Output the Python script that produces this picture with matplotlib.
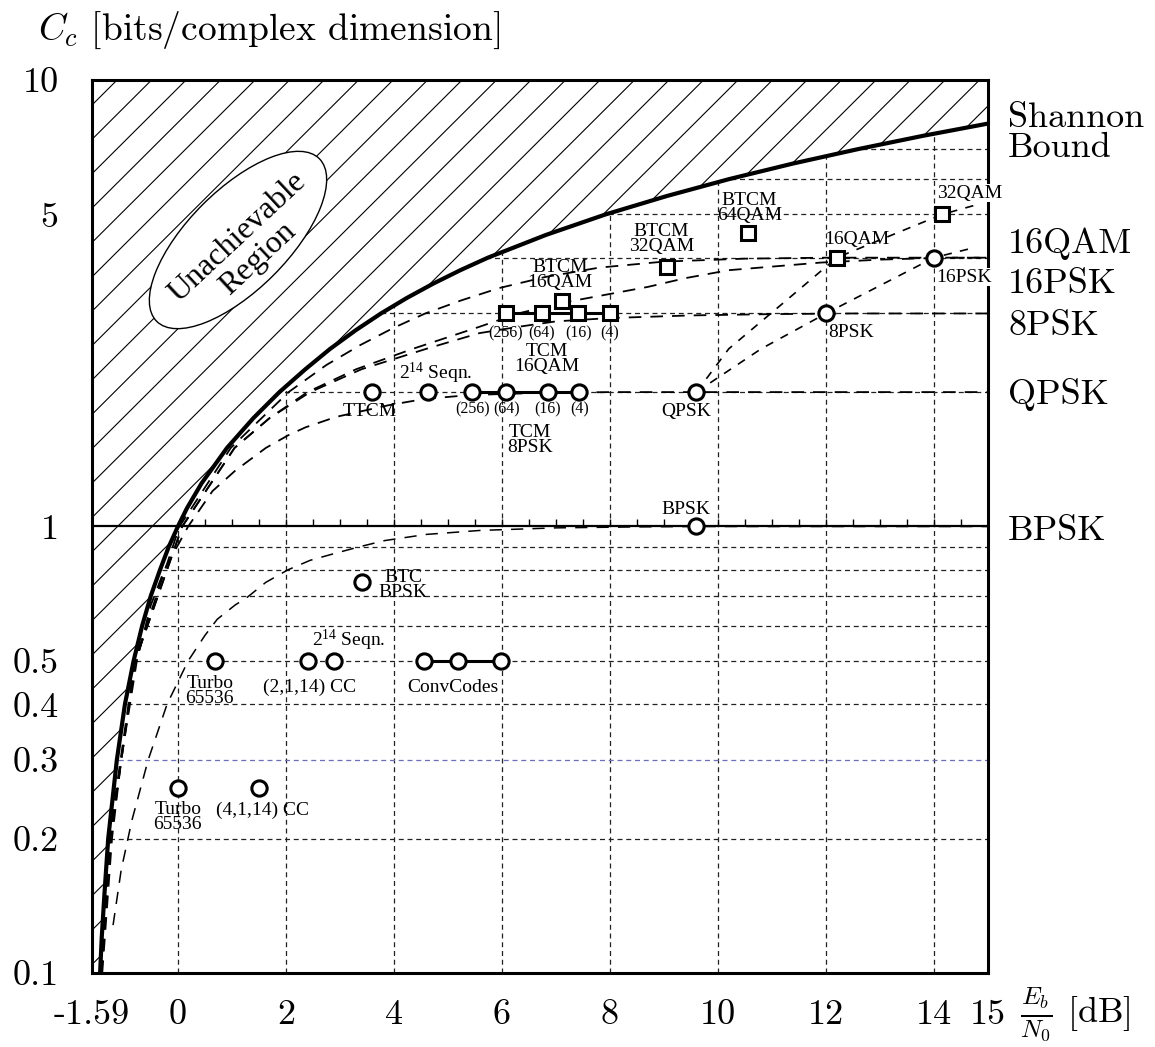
import numpy as np
import matplotlib
matplotlib.use("Agg")
import matplotlib.pyplot as plt
from matplotlib.patches import Polygon, Ellipse
from matplotlib.collections import LineCollection
from matplotlib.ticker import NullFormatter

plt.rcParams['mathtext.fontset'] = 'cm'
plt.rcParams['axes.unicode_minus'] = False

# ---------------- data ----------------
shannon_ebn0 = [-1.44, -1.41, -1.36, -1.29, -1.13, -0.98, -0.82, -0.66, -0.50, -0.33, -0.17, 0.00,
                0.17, 0.44, 0.91, 1.40, 1.88, 2.36, 2.82, 3.29, 3.76, 4.24, 4.73, 5.23, 5.74,
                6.82, 7.92, 9.06, 10.21, 11.39, 12.59, 13.80, 15.03]
shannon_c = [0.10, 0.12, 0.15, 0.20, 0.30, 0.40, 0.50, 0.60, 0.70, 0.80, 0.90, 1.00,
             1.10, 1.25, 1.50, 1.75, 2.00, 2.25, 2.50, 2.75, 3.00, 3.25, 3.50, 3.75, 4.00,
             4.50, 5.00, 5.50, 6.00, 6.50, 7.00, 7.50, 8.00]

qpsk_ebn0 = [-1.40, -1.22, -1.05, -0.76, -0.50, -0.25, 0.19, 0.64, 1.06, 1.63, 2.04, 2.36,
             2.93, 3.91, 4.56, 5.41, 6.60, 8.00, 15.0]
qpsk_c = [0.10, 0.20, 0.30, 0.50, 0.667, 0.80, 1.00, 1.20, 1.333, 1.50, 1.60, 1.667,
          1.76, 1.87, 1.93, 1.97, 1.99, 2.00, 2.00]

psk8_ebn0 = [-1.42, -1.25, -0.79, 0.08, 1.05, 1.70, 2.45, 3.40, 4.60, 5.58, 6.30, 7.00,
             8.00, 9.50, 11.0, 12.5, 15.0]
psk8_c = [0.10, 0.20, 0.50, 1.00, 1.50, 1.75, 2.00, 2.25, 2.50, 2.71, 2.80, 2.88,
          2.93, 2.97, 2.99, 3.00, 3.00]

psk16_ebn0 = [-1.42, -1.25, -0.79, 0.08, 1.05, 1.70, 2.40, 3.30, 4.35, 5.58, 6.30, 7.12,
              8.70, 9.40, 10.2, 11.9, 13.0, 14.2, 15.0]
psk16_c = [0.10, 0.20, 0.50, 1.00, 1.50, 1.75, 2.00, 2.25, 2.50, 2.80, 3.00, 3.17,
           3.44, 3.60, 3.75, 3.90, 3.96, 4.00, 4.00]

qam16_ebn0 = [-1.43, -1.27, -0.80, 0.03, 0.98, 2.05, 2.75, 3.38, 3.98, 4.58, 5.25, 5.95,
              6.80, 7.80, 9.00, 10.5, 12.0, 15.0]
qam16_c = [0.10, 0.20, 0.50, 1.00, 1.50, 2.00, 2.30, 2.55, 2.78, 3.00, 3.21, 3.42,
           3.62, 3.80, 3.92, 3.98, 4.00, 4.00]

bpsk_ebn0 = [-1.20, -1.05, -0.85, -0.55, -0.20, 0.19, 0.50, 0.73, 1.06, 1.29, 1.63, 2.04,
             2.45, 2.90, 3.35, 3.83, 4.60, 5.60, 7.00, 8.50, 9.60, 15.0]
bpsk_c = [0.128, 0.17, 0.22, 0.30, 0.40, 0.50, 0.57, 0.62, 0.667, 0.695, 0.75, 0.80,
          0.84, 0.87, 0.90, 0.93, 0.96, 0.98, 0.993, 0.998, 1.00, 1.00]

# uncoded operating-point curves
unc_qam_ebn0 = [9.6, 10.2, 11.2, 12.2, 14.15, 14.85]
unc_qam_c = [2.0, 2.5, 3.16, 4.0, 5.0, 5.28]
unc_psk_ebn0 = [9.6, 10.8, 12.0, 14.0, 14.7]
unc_psk_c = [2.0, 2.5, 3.0, 4.0, 4.2]

# coded systems
conv_x = [4.56, 5.19, 5.98]
conv_c = [0.5, 0.5, 0.5]
tcm8_x = [5.45, 6.08, 6.85, 7.43]
tcm8_c = [2.0, 2.0, 2.0, 2.0]
tcm16_x = [6.07, 6.74, 7.41, 8.00]
tcm16_c = [3.0, 3.0, 3.0, 3.0]
state_labels = ['(256)', '(64)', '(16)', '(4)']

circ_x = [0.69, 2.41, 2.90, 3.40, 0.00, 1.50, 3.59, 4.63, 9.60, 9.60, 12.0, 14.0]
circ_c = [0.50, 0.50, 0.50, 0.75, 0.26, 0.26, 2.00, 2.00, 1.00, 2.00, 3.00, 4.00]
sq_x = [7.12, 9.06, 10.56, 12.20, 14.15]
sq_c = [3.20, 3.81, 4.54, 4.00, 5.00]

xtick_vals = [-1.59, 0, 2, 4, 6, 8, 10, 12, 14, 15]
xtick_labels = ['-1.59', '0', '2', '4', '6', '8', '10', '12', '14', '15']
ytick_vals = [0.1, 0.2, 0.3, 0.4, 0.5, 1, 5, 10]
ytick_labels = ['0.1', '0.2', '0.3', '0.4', '0.5', '1', '5', '10']
yminor_vals = [0.6, 0.7, 0.8, 0.9, 2, 3, 4, 6, 7, 8, 9]

# ---------------- figure ----------------
W, H = 1155, 1047
fig = plt.figure(figsize=(W / 100, H / 100), dpi=100)
ax = fig.add_axes([92 / W, 1 - 973 / H, 896 / W, 893 / H])
ax.set_yscale('log')
ax.set_xlim(-1.59, 15)
ax.set_ylim(0.1, 10)

# grid
for xv in [0, 2, 4, 6, 8, 10, 12, 14]:
    ax.axvline(xv, color='#222222', lw=0.9, ls=(0, (4, 3)), zorder=1)
for yv in [0.2, 0.4, 0.5, 0.6, 0.7, 0.8, 0.9, 2, 3, 4, 5, 6, 7, 8, 9]:
    ax.axhline(yv, color='#222222', lw=0.9, ls=(0, (4, 3)), zorder=1)
ax.axhline(0.3, color='#6f6fb8', lw=0.9, ls=(0, (4, 3)), zorder=1)

# unachievable (hatched) region above the Shannon bound
verts = [(-1.59, 0.1), (-1.59, 10.0), (15.2, 10.0), (15.2, shannon_c[-1])]
verts += list(zip(shannon_ebn0[::-1], shannon_c[::-1]))
region = Polygon(verts, closed=True, facecolor='white', edgecolor='none', zorder=2)
ax.add_patch(region)
cs = 0.972 - 0.0385 * np.arange(0, 52)
segs = [[(-1.0, -1.0 + c), (2.0, 2.0 + c)] for c in cs]
hatch = LineCollection(segs, colors='black', linewidths=0.8, transform=ax.transAxes, zorder=2.1)
ax.add_collection(hatch)
hatch.set_clip_path(region)

# BPSK asymptote (solid) with small ticks
ax.axhline(1.0, color='black', lw=1.6, zorder=3.5)
tick_x = np.arange(0.5, 15.0, 0.5)
ax.plot(tick_x, np.ones_like(tick_x), ls='none', marker=2, ms=5, mew=1.0, color='black', zorder=3.5)

# capacity curves
cap_style = dict(color='black', lw=1.3, ls=(0, (7, 5)), zorder=3)
ax.plot(qpsk_ebn0, qpsk_c, **cap_style)
ax.plot(psk8_ebn0, psk8_c, **cap_style)
ax.plot(psk16_ebn0, psk16_c, **cap_style)
ax.plot(qam16_ebn0, qam16_c, **cap_style)
ax.plot(bpsk_ebn0, bpsk_c, color='black', lw=1.1, ls=(0, (8, 6)), zorder=3)

# uncoded curves (finer dashes)
unc_style = dict(color='black', lw=1.2, ls=(0, (5, 5)), zorder=3)
ax.plot(unc_qam_ebn0, unc_qam_c, **unc_style)
ax.plot(unc_psk_ebn0, unc_psk_c, **unc_style)

# Shannon bound
ax.plot(shannon_ebn0, shannon_c, color='black', lw=3.0, zorder=4, solid_capstyle='butt',
        solid_joinstyle='round')

# coded points
mk = dict(mfc='white', mec='black', mew=2.2, ls='none', zorder=7)
ax.plot(conv_x, conv_c, '-', color='black', lw=2.2, zorder=6)
ax.plot(tcm8_x, tcm8_c, '-', color='black', lw=2.2, zorder=6)
ax.plot(tcm16_x, tcm16_c, '-', color='black', lw=2.2, zorder=6)
ax.plot(conv_x, conv_c, marker='o', ms=11, **mk)
ax.plot(tcm8_x, tcm8_c, marker='o', ms=11, **mk)
ax.plot(circ_x, circ_c, marker='o', ms=11, **mk)
ax.plot(tcm16_x, tcm16_c, marker='s', ms=10, **mk)
ax.plot(sq_x, sq_c, marker='s', ms=10, **mk)

# small annotations
serif = 'Liberation Serif'
small = dict(fontsize=14, family=serif, ha='center', va='center', linespacing=0.82, zorder=8)
notes = [
    ("Turbo\n65536", 0.59, 0.428),
    ("(2,1,14) CC", 2.43, 0.437),
    (r"$\mathregular{2^{14}}$ Seqn.", 3.16, 0.557),
    ("ConvCodes", 5.09, 0.437),
    ("BTC\nBPSK", 4.17, 0.74),
    ("Turbo\n65536", 0.0, 0.2236),
    ("(4,1,14) CC", 1.56, 0.2317),
    ("TTCM", 3.56, 1.814),
    (r"$\mathregular{2^{14}}$ Seqn.", 4.78, 2.207),
    ("TCM\n8PSK", 6.52, 1.563),
    ("TCM\n16QAM", 6.83, 2.372),
    ("BTCM\n16QAM", 7.07, 3.66),
    ("BTCM\n32QAM", 8.95, 4.40),
    ("BTCM\n64QAM", 10.58, 5.17),
    ("16QAM", 12.58, 4.40),
    ("8PSK", 12.46, 2.713),
    ("QPSK", 9.41, 1.814),
    ("BPSK", 9.41, 1.094),
]
for t, x, y in notes:
    ax.text(x, y, t, **small)
for t, x, y in [("32QAM", 14.66, 5.58), ("16PSK", 14.55, 3.62)]:
    ax.text(x, y, t, clip_on=False, bbox=dict(facecolor='white', edgecolor='none', pad=0.5), **small)
for lab, x in zip(state_labels, tcm8_x):
    ax.text(x, 1.833, lab, fontsize=11.5, family=serif, ha='center', va='center', zorder=8)
for lab, x in zip(state_labels, tcm16_x):
    ax.text(x, 2.713, lab, fontsize=11.5, family=serif, ha='center', va='center', zorder=8)

# unachievable ellipse
ell = Ellipse((2.38, 8.07), width=2.30, height=1.00, angle=45, transform=fig.dpi_scale_trans,
              facecolor='white', edgecolor='black', lw=1.0, zorder=5)
ax.add_patch(ell)
fig.text(248 / W, 1 - 248 / H, "Unachievable\nRegion", rotation=43, rotation_mode='anchor',
         ha='center', va='center', fontsize=23, family=serif, linespacing=1.0, zorder=9)

# axes styling
for s in ax.spines.values():
    s.set_linewidth(2.2)
    s.set_zorder(6.5)
cm = 'cmr10'
ax.set_xticks(xtick_vals)
ax.set_xticklabels(xtick_labels, fontsize=26, family=cm)
ax.tick_params(axis='x', length=0, pad=19)
ax.set_yticks(ytick_vals)
ax.set_yticklabels(ytick_labels, fontsize=26, family=cm)
ax.set_yticks(yminor_vals, minor=True)
ax.yaxis.set_minor_formatter(NullFormatter())
ax.tick_params(axis='y', which='both', direction='in', length=5, width=1.2, pad=24)

# right-side labels
big = dict(fontsize=26, family=cm, va='baseline', ha='left')
for t, yb in [("Shannon", 127), ("Bound", 157), ("16QAM", 253), ("16PSK", 293),
              ("8PSK", 335), ("QPSK", 404), ("BPSK", 540)]:
    fig.text(1008 / W, 1 - yb / H, t, **big)

fig.text(38 / W, 1 - 40 / H, r"$C_c$ [bits/complex dimension]", fontsize=27, family=cm,
         va='baseline', ha='left')
fig.text(1020 / W, 1 - 1022 / H, r"$\frac{E_b}{N_0}$ [dB]", **big)

fig.savefig("out.png", dpi=100)
